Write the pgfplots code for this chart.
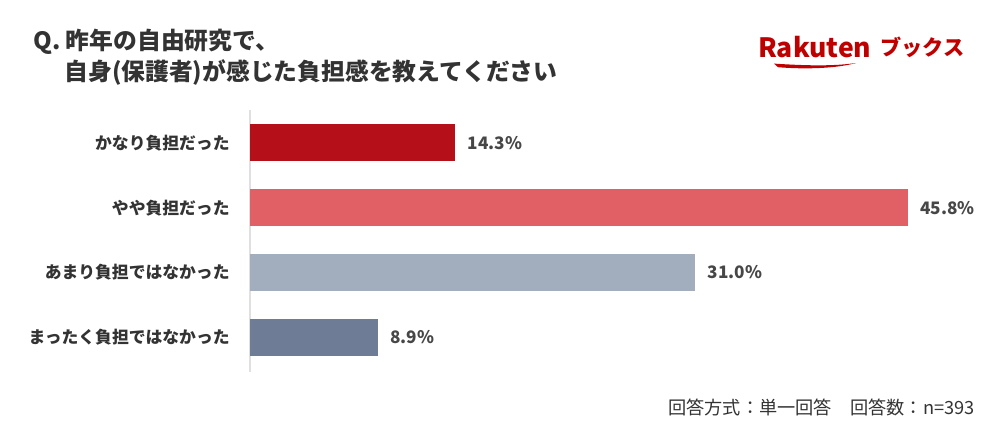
\documentclass[border=0pt]{standalone}
\usepackage{pgfplots}
\pgfplotsset{compat=1.18}
\usepackage{fontspec}
\setmainfont{Noto Sans CJK JP}
\definecolor{txt}{HTML}{333333}
\definecolor{cA}{HTML}{B50F1A}
\definecolor{cB}{HTML}{E06066}
\definecolor{cC}{HTML}{A2ADBE}
\definecolor{cD}{HTML}{6E7C95}
\definecolor{rak}{HTML}{BF0000}
\begin{document}
\begin{tikzpicture}
\path[use as bounding box] (0,0) rectangle (500pt,-219pt);
% title
\node[anchor=west, inner sep=0pt, text=txt, font=\bfseries\fontsize{11.9pt}{14pt}\selectfont] at (16.5pt,-21pt) {Q. 昨年の自由研究で、};
\node[anchor=west, inner sep=0pt, text=txt, font=\bfseries\fontsize{11.9pt}{14pt}\selectfont] at (32pt,-36.5pt) {自身(保護者)が感じた負担感を教えてください};
% logo
\node[anchor=west, inner sep=0pt, text=rak, font=\bfseries\fontsize{13.3pt}{14pt}\selectfont] at (379pt,-23.5pt) {Rakuten};
\node[anchor=west, inner sep=0pt, text=rak, font=\bfseries\fontsize{10.6pt}{12pt}\selectfont] at (440pt,-23.5pt) {ブックス};
\fill[rak] (387pt,-31.8pt) .. controls (405pt,-33pt) and (418pt,-33pt) .. (428pt,-31.5pt) .. controls (418pt,-34.3pt) and (402pt,-34.7pt) .. (389pt,-33.6pt) -- cycle;
% footer
\node[anchor=east, inner sep=0pt, text=txt, font=\fontsize{9.1pt}{10pt}\selectfont] at (487.5pt,-203.5pt) {回答方式：単一回答　回答数：n=393};
\begin{axis}[
  at={(125pt,-55pt)}, anchor=north west,
  scale only axis, width=329pt, height=131pt,
  xbar, bar width=18.5pt, bar shift=0pt,
  xmin=0, xmax=45.8,
  ymin=-0.51, ymax=3.54, y dir=reverse,
  axis x line=none, axis y line=left,
  y axis line style={draw=black!12, line width=0.8pt, -},
  ytick={0,1,2,3},
  yticklabels={かなり負担だった,やや負担だった,あまり負担ではなかった,まったく負担ではなかった},
  major tick length=0pt,
  y tick label style={anchor=east, inner xsep=0pt, xshift=-10pt, text=txt, font=\bfseries\fontsize{8.4pt}{10pt}\selectfont},
  /pgf/number format/assume math mode=true,
  nodes near coords={\pgfmathprintnumber[fixed,fixed zerofill,precision=1,assume math mode=true]{\pgfplotspointmeta}\%},
  nodes near coords style={anchor=west, inner xsep=0pt, xshift=6pt, text=txt!90, font=\bfseries\fontsize{8.6pt}{10pt}\selectfont},
  clip=false,
]
\addplot[fill=cA, draw=none] coordinates {(14.3,0)};
\addplot[fill=cB, draw=none] coordinates {(45.8,1)};
\addplot[fill=cC, draw=none] coordinates {(31.0,2)};
\addplot[fill=cD, draw=none] coordinates {(8.9,3)};
\end{axis}
\end{tikzpicture}
\end{document}
